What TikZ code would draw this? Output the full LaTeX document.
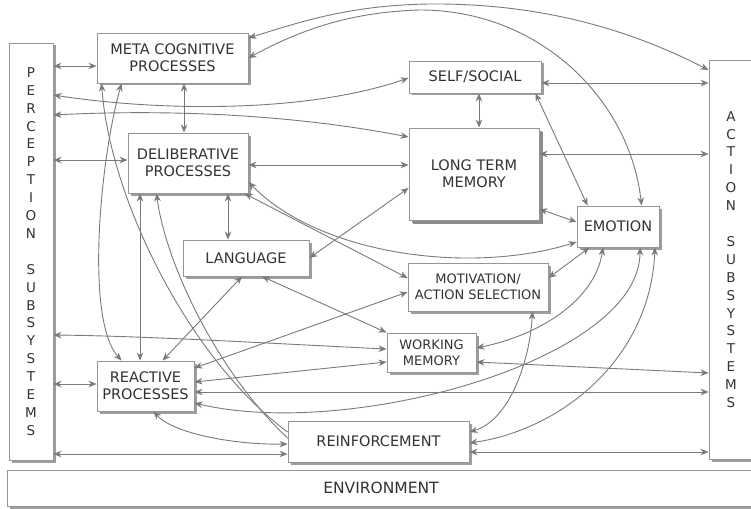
\documentclass[tikz,border=0pt]{standalone}
\usepackage{fontspec}
\setmainfont{DejaVu Sans}
\usetikzlibrary{arrows.meta,shadows,calc}
\definecolor{linegray}{HTML}{7A7A7A}
\definecolor{boxgray}{HTML}{959595}
\definecolor{txtgray}{HTML}{333333}
\definecolor{shadowgray}{HTML}{9E9E9E}
\begin{document}
\begin{tikzpicture}[x=1pt,y=-1pt,
  box/.style={draw=boxgray, line width=0.9pt, fill=white, text=txtgray, align=center, inner sep=0pt,
    font=\fontsize{14.5}{17}\selectfont,
    drop shadow={shadow xshift=2.5pt, shadow yshift=-2.5pt, fill=shadowgray, opacity=1}},
  bigshadow/.style={drop shadow={shadow xshift=4pt, shadow yshift=-4pt, fill=black!45, opacity=1}},
  smalltext/.style={font=\fontsize{13}{16}\selectfont},
  vert/.style={font=\fontsize{13.5}{17.9}\selectfont},
  conn/.style={draw=linegray, line width=0.9pt, >={Stealth[length=8pt,width=6.5pt,inset=2.5pt]}, <->},
]
\useasboundingbox (0,0) rectangle (751,508);
\fill[white] (0,0) rectangle (751,508);

% boxes
\node[box, minimum width=748pt, minimum height=36pt, font=\fontsize{15.5}{18}\selectfont] (env) at (381,488) {ENVIRONMENT};
\node[box, vert, minimum width=44pt, minimum height=417pt] (perc) at (31,251.5)
  {P\\E\\R\\C\\E\\P\\T\\I\\O\\N\\[17.9pt]S\\U\\B\\S\\Y\\S\\T\\E\\M\\S};
\node[box, vert, minimum width=44pt, minimum height=399pt] (action) at (731,259.5)
  {A\\C\\T\\I\\O\\N\\[17.9pt]S\\U\\B\\S\\Y\\S\\T\\E\\M\\S};
\node[box, minimum width=151pt, minimum height=50pt] (meta) at (172.5,58) {META COGNITIVE\\PROCESSES};
\node[box, minimum width=120pt, minimum height=60pt] (delib) at (188,163) {DELIBERATIVE\\PROCESSES};
\node[box, minimum width=126pt, minimum height=36pt] (lang) at (246,258) {LANGUAGE};
\node[box, minimum width=132pt, minimum height=32pt] (self) at (475,77) {SELF/SOCIAL};
\node[box, bigshadow, minimum width=130pt, minimum height=92pt] (ltm) at (474,174) {LONG TERM\\MEMORY};
\node[box, minimum width=82pt, minimum height=41pt] (emo) at (618,226.5) {EMOTION};
\node[box, smalltext, minimum width=140pt, minimum height=48pt] (motiv) at (478,287) {MOTIVATION/\\ACTION SELECTION};
\node[box, smalltext, minimum width=89pt, minimum height=39pt] (wm) at (431.5,352.5) {WORKING\\MEMORY};
\node[box, minimum width=97pt, minimum height=50pt] (react) at (145.5,386) {REACTIVE\\PROCESSES};
\node[box, minimum width=181pt, minimum height=41pt] (reinf) at (378.5,441.5) {REINFORCEMENT};

% perception links
\draw[conn] (perc.east |- 0,66) -- (meta.west |- 0,66);
\draw[conn] (perc.east |- 0,160) -- (delib.west |- 0,160);
\draw[conn] (perc.east |- 0,384) -- (react.west |- 0,384);
\draw[conn] (perc.east |- 0,454) -- (reinf.west |- 0,454);
\draw[conn] (perc.east |- 0,95) .. controls (150,110) and (300,115) .. (self.west |- 0,78);
\draw[conn] (perc.east |- 0,115) .. controls (150,110) and (280,112) .. (ltm.west |- 0,137);
\draw[conn] (perc.east |- 0,335) .. controls (150,336) and (300,345) .. (wm.west |- 0,349);

% reactive links
\draw[conn] (react.east |- 0,382) -- (wm.west |- 0,362);
\draw[conn] (react.east |- 0,368) -- (motiv.west |- 0,292);
\draw[conn] (react.east |- 0,392) -- (action.west |- 0,392);
\draw[conn] (react.east |- 0,403) .. controls (350,440) and (640,360) .. ($(emo.south)+(22,0)$);
\draw[conn] ($(react.south)+(8,0)$) .. controls (175,435) and (240,445) .. (reinf.west |- 0,444);

% emotion / motivation / reinforcement
\draw[conn] (wm.east |- 0,348) .. controls (540,335) and (595,300) .. ($(emo.south)+(-15,0)$);
\draw[conn] (motiv.east |- 0,278) -- ($(emo.south west)+(13,0)$);
\draw[conn] ($(emo.south)+(37,0)$) .. controls (650,360) and (560,430) .. (reinf.east |- 0,443);
\draw[conn] ($(motiv.south east)+(-16,0)$) .. controls (530,360) and (510,420) .. (reinf.east |- 0,432);
\draw[conn] (reinf.east |- 0,452) -- (action.west |- 0,452);
\draw[conn] (wm.east |- 0,362) -- (action.west |- 0,373);

% meta / deliberative
\draw[conn] ($(meta.south west)+(25,0)$) .. controls (100,160) and (85,320) .. ($(react.north west)+(25,0)$);
\draw[conn,<-] ($(meta.south west)+(5,0)$) .. controls (110,200) and (190,360) .. (reinf.west |- 0,432);
\draw[conn,<-] ($(delib.south west)+(29,0)$) .. controls (165,260) and (215,370) .. (reinf.west |- 0,438);
\draw[conn] (delib.south -| 140,0) -- (react.north -| 140,0);
\draw[conn] (meta.south -| 184,0) -- (delib.north -| 184,0);
\draw[conn] (delib.south -| 228,0) -- (lang.north -| 228,0);
\draw[conn] (delib.east |- 0,165) -- (ltm.west |- 0,165);
\draw[conn] (delib.east |- 0,182) .. controls (320,255) and (470,275) .. (emo.west |- 0,242);
\draw[conn] ($(delib.south east)+(-4,0)$) -- (motiv.west |- 0,278);

% language
\draw[conn] (lang.east) -- (ltm.west |- 0,188);
\draw[conn] ($(lang.south)+(16,0)$) -- (wm.north west);
\draw[conn] ($(lang.south)+(-4,0)$) -- ($(react.north west)+(66,0)$);

% self / ltm
\draw[conn] (self.south -| 479,0) -- (ltm.north -| 479,0);
\draw[conn] (self.east |- 0,83) -- (action.west |- 0,83);
\draw[conn] (ltm.east |- 0,154) -- (action.west |- 0,154);
\draw[conn] ($(self.south east)+(-6,0)$) -- ($(emo.north west)+(11,0)$);
\draw[conn] (ltm.east |- 0,209) -- (emo.west |- 0,222);

% top arcs
\draw[conn] (meta.east |- 0,38) .. controls (300,22) and (350,5) .. (430,4)
  .. controls (560,3) and (650,40) .. (action.west |- 0,70);
\draw[conn] (meta.east |- 0,58) .. controls (300,30) and (350,12) .. (420,10)
  .. controls (540,10) and (630,100) .. ($(emo.north west)+(65,0)$);
\end{tikzpicture}
\end{document}
